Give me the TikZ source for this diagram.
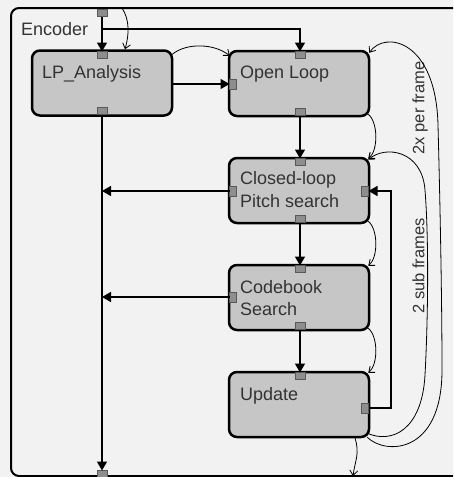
\documentclass[tikz,border=0pt]{standalone}
\usepackage{fontspec}
\setmainfont{Liberation Sans}
\usetikzlibrary{arrows.meta}
\definecolor{bg}{HTML}{F2F2F2}
\definecolor{boxfill}{HTML}{C6C6C6}
\definecolor{portfill}{HTML}{8E8E8E}
\definecolor{txt}{HTML}{333333}
\begin{document}
\begin{tikzpicture}[x=1pt,y=-1pt,
  block/.style={draw=black, line width=2.5pt, fill=boxfill, rounded corners=8pt, minimum width=140pt, minimum height=65pt, inner sep=0pt},
  hport/.style={draw=black!65, line width=0.6pt, fill=portfill, minimum width=10pt, minimum height=7pt, inner sep=0pt, outer sep=0pt},
  vport/.style={draw=black!65, line width=0.6pt, fill=portfill, minimum width=7pt, minimum height=10pt, inner sep=0pt, outer sep=0pt},
  flow/.style={line width=1.5pt, -{Triangle[length=9pt,width=10pt]}},
  loopline/.style={line width=0.8pt, -{Straight Barb[length=5pt,width=8pt]}},
  lbl/.style={anchor=base west, inner sep=0pt, text=txt, font=\fontsize{18}{23}\selectfont},
  rotlbl/.style={anchor=center, inner sep=0pt, text=txt, rotate=90, font=\fontsize{16.5}{20}\selectfont},
]
\useasboundingbox (0,0) rectangle (453,477);
\fill[bg] (0,0) rectangle (453,477);
\begin{scope}
\clip (0,0) rectangle (453,477);
\draw[line width=2pt, fill=bg, rounded corners=8pt] (11,8) rectangle (470,476);
\end{scope}

% blocks
\node[block] (lp) at (102,83) {};
\node[block] (ol) at (299,83.5) {};
\node[block] (cl) at (299,190.5) {};
\node[block] (cb) at (299,297.5) {};
\node[block] (up) at (299,404.5) {};

% texts
\node[lbl] (tenc) at (21,35) {Encoder};
\node[lbl] (tlp) at (42,78) {LP\_Analysis};
\node[lbl] (tol) at (240,78) {Open Loop};
\node[lbl] (tcl1) at (240,184) {Closed-loop};
\node[lbl] (tcl2) at (240,207) {Pitch search};
\node[lbl] (tcb1) at (240,293) {Codebook};
\node[lbl] (tcb2) at (240,315) {Search};
\node[lbl] (tup) at (240,400) {Update};
\node[rotlbl] (t2x) at (420,108) {2x per frame};
\node[rotlbl] (t2s) at (418.5,266) {2 sub frames};

% ports
\node[hport] (tp) at (102,13) {};
\node[hport] (lpt) at (102,55) {};
\node[hport] (lpb) at (102,111) {};
\node[vport] (oll) at (233,84) {};
\node[hport] (olt) at (300,55) {};
\node[hport] (olb) at (300,112) {};
\node[vport] (cll) at (233,191) {};
\node[vport] (clr) at (365,191) {};
\node[hport] (clt) at (300,162) {};
\node[hport] (clb) at (300,219) {};
\node[vport] (cbl) at (233,297) {};
\node[hport] (cbt) at (300,269) {};
\node[hport] (cbb) at (300,326) {};
\node[hport] (upt) at (300,376) {};
\node[vport] (upr) at (365,408) {};
\node[hport] (bp) at (102,474) {};

% free-end coordinates
\coordinate (br) at (102,29);
\coordinate (j1) at (102,191);
\coordinate (j2) at (102,297);
\coordinate (fb) at (391,408);
\coordinate (c0) at (122,8);
\coordinate (ex) at (353,476);

% thick flows
\draw[flow] (tp) -- (lpt);
\draw[flow] (br) -| (olt);
\draw[flow] (lp.east |- oll.west) -- (oll.west);
\draw[flow] (olb) -- (clt);
\draw[flow] (clb) -- (cbt);
\draw[flow] (cbb) -- (upt);
\draw[flow] (lpb) -- (bp);
\draw[flow] (cll.west) -- (j1);
\draw[flow] (cbl.west) -- (j2);
\draw[flow] (upr.east) -- (fb) |- (clr.east);

% thin control-flow curves
\draw[loopline] (c0) .. controls +(8,12) and +(4,-14) .. ([xshift=23]lp.north);
\draw[loopline] ([shift={(-1,5)}]lp.north east) .. controls +(15,-12) and +(-15,-12) .. ([shift={(2,6)}]ol.north west);
\draw[loopline] ([shift={(-2,-3)}]ol.south east) .. controls +(10,8) and +(10,-8) .. ([shift={(-2,2)}]cl.north east);
\draw[loopline] ([shift={(-2,-3)}]cl.south east) .. controls +(10,8) and +(10,-8) .. ([shift={(-2,2)}]cb.north east);
\draw[loopline] ([shift={(-2,-3)}]cb.south east) .. controls +(10,8) and +(10,-8) .. ([shift={(-2,2)}]up.north east);
% 2x per frame loop
\draw[loopline] ([shift={(-3,-1)}]up.south east) .. controls (385,455) and (442,455) .. (442,370)
  .. controls (442,300) and (440,200) .. (438,125)
  .. controls (436,40) and (385,30) .. ([shift={(-1,3)}]ol.north east);
% 2 sub frames loop
\draw[loopline] ([shift={(-3,-5)}]up.south east) .. controls (392,444) and (422,430) .. (425,375)
  .. controls (428,320) and (429,240) .. (425,190)
  .. controls (422,150) and (385,145) .. ([shift={(-2,3)}]cl.north east);
% exit
\draw[loopline] ([xshift=56]up.south) .. controls +(5,15) and +(2,-15) .. (ex);
\end{tikzpicture}
\end{document}
